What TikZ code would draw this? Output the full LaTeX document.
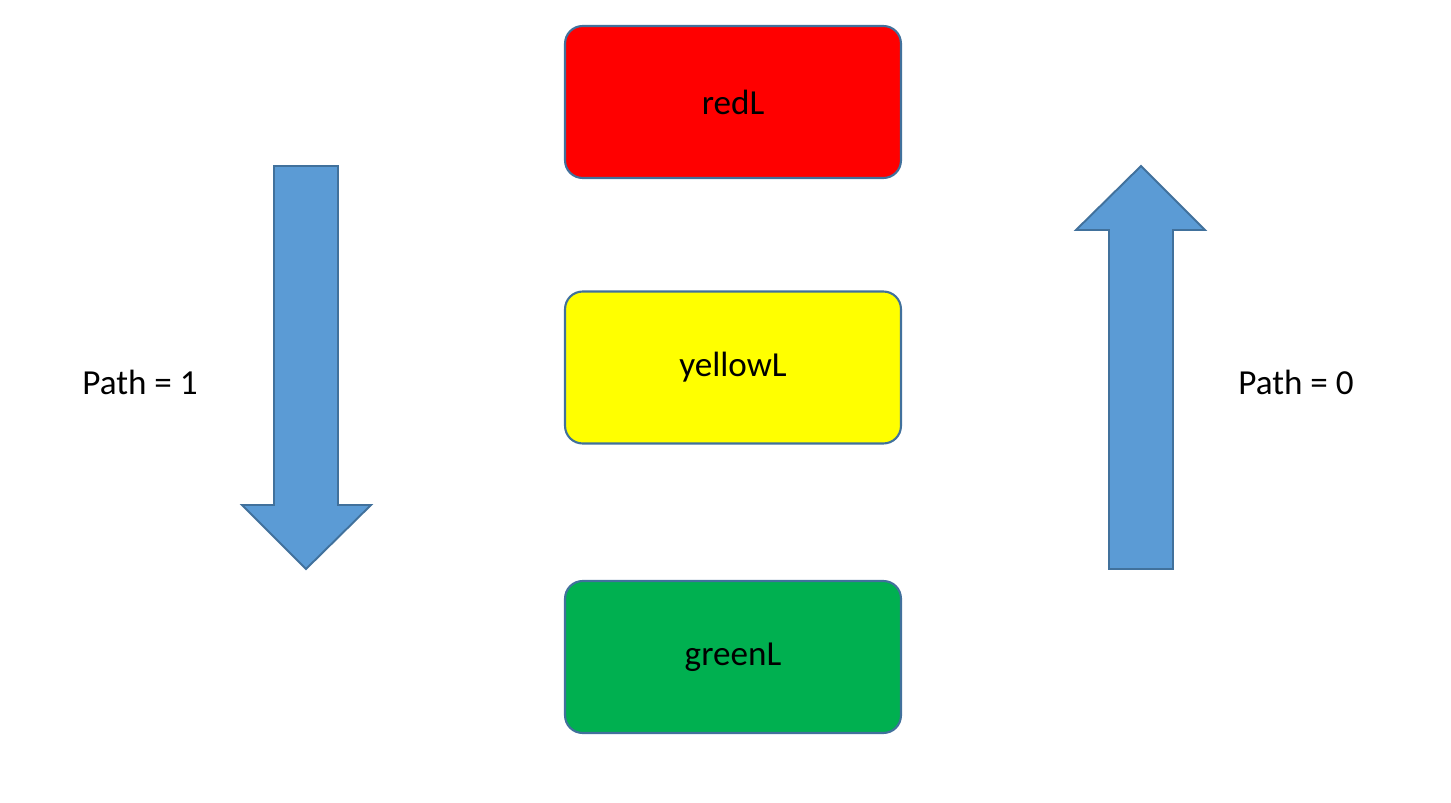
\documentclass[tikz,border=0pt]{standalone}
\usepackage{fontspec}
\setmainfont{Carlito}
\usepackage{tikz}
\usepackage{xcolor}
\definecolor{arrowblue}{HTML}{5B9BD5}
\definecolor{edgeblue}{HTML}{41719C}
\definecolor{lampred}{HTML}{FF0000}
\definecolor{lampyellow}{HTML}{FFFF00}
\definecolor{lampgreen}{HTML}{00B050}
\tikzset{
  lamp/.style = {draw=edgeblue, line width=1.2pt, rounded corners=10pt,
    minimum width=6.72cm, minimum height=3.04cm, font=\fontsize{20}{24}\selectfont, fill=#1},
  bigarrow/.style = {draw=edgeblue, line width=1.1pt, fill=arrowblue},
  pathlabel/.style = {font=\fontsize{20}{24}\selectfont}
}
\begin{document}
\begin{tikzpicture}[x=0.02cm,y=-0.02cm]

  \useasboundingbox (0,0) rectangle (1451,803);

  \node[lamp=lampred] (redL) at (733,102) {redL};
  \node[lamp=lampyellow] (yellowL) at (733,367.5) {yellowL};
  \node[lamp=lampgreen] (greenL) at (733,657) {greenL};

  % down arrow
  \draw[bigarrow] (274,166) -- (338,166) -- (338,505) -- (371,505) -- (306,569)
    -- (242,505) -- (274,505) -- cycle;
  % up arrow
  \draw[bigarrow] (1109,569) -- (1173,569) -- (1173,230) -- (1205,230) -- (1141,166)
    -- (1076,230) -- (1109,230) -- cycle;

  \node[pathlabel] (down) at (140,382) {Path = 1};
  \node[pathlabel] (up) at (1296,382) {Path = 0};
\end{tikzpicture}
\end{document}
